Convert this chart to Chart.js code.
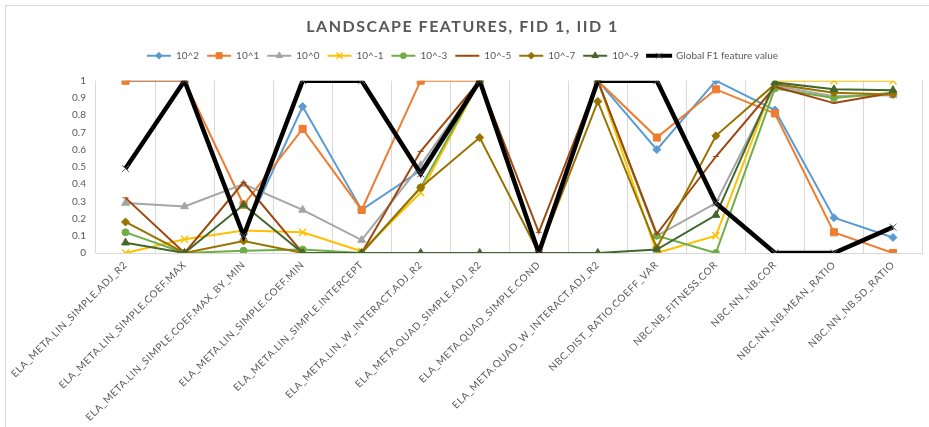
<!DOCTYPE html>
<html>
<head>
<meta charset="utf-8">
<title>Landscape features, FID 1, IID 1</title>
<script src="https://cdn.jsdelivr.net/npm/chart.js@4.4.1/dist/chart.umd.min.js"></script>
<style>
  html, body { margin: 0; padding: 0; background: #fff; overflow: hidden; }
  #frame { position: absolute; left: 5px; top: 5px; width: 940px; height: 440px; border: 1px solid #d9d9d9; }
  #box { position: absolute; left: 0; top: 0; width: 929px; height: 427px; }
</style>
</head>
<body>
<div id="frame"></div>
<div id="box"><canvas id="chart"></canvas></div>
<script>
const features = [
  'ELA_META.LIN_SIMPLE.ADJ_R2',
  'ELA_META.LIN_SIMPLE.COEF.MAX',
  'ELA_META.LIN_SIMPLE.COEF.MAX_BY_MIN',
  'ELA_META.LIN_SIMPLE.COEF.MIN',
  'ELA_META.LIN_SIMPLE.INTERCEPT',
  'ELA_META.LIN_W_INTERACT.ADJ_R2',
  'ELA_META.QUAD_SIMPLE.ADJ_R2',
  'ELA_META.QUAD_SIMPLE.COND',
  'ELA_META.QUAD_W_INTERACT.ADJ_R2',
  'NBC.DIST_RATIO.COEFF_VAR',
  'NBC.NB_FITNESS.COR',
  'NBC.NN_NB.COR',
  'NBC.NN_NB.MEAN_RATIO',
  'NBC.NN_NB.SD_RATIO'
];

// one array per setting
const e2  = [1, 1, 0.11, 0.85, 0.25, 0.48, 1, 0, 1, 0.60, 1, 0.83, 0.205, 0.09];
const e1  = [1, 1, 0.28, 0.72, 0.25, 1, 1, 0, 1, 0.67, 0.95, 0.81, 0.12, 0];
const e0  = [0.29, 0.27, 0.40, 0.25, 0.075, 0.51, 1, 0, 1, 0.10, 0.29, 0.97, 0.91, 0.915];
const em1 = [0, 0.08, 0.13, 0.12, 0.01, 0.35, 1, 0, 1, 0, 0.10, 1, 1, 1];
const em3 = [0.12, 0, 0.013, 0.02, 0, 0.38, 1, 0, 1, 0.10, 0, 0.955, 0.90, 0.93];
const em5 = [0.32, 0, 0.41, 0, 0, 0.59, 1, 0.12, 1, 0.11, 0.56, 0.965, 0.87, 0.93];
const em7 = [0.18, 0, 0.07, 0, 0, 0.38, 0.67, 0, 0.88, 0.03, 0.68, 0.98, 0.93, 0.92];
const em9 = [0.06, 0, 0.28, 0, 0, 0, 0, 0, 0, 0.02, 0.22, 0.99, 0.95, 0.945];
const globalF1 = [0.49, 1, 0.10, 1, 1, 0.46, 1, 0, 1, 1, 0.29, 0, 0, 0.15];

const yTicks = [0, 0.1, 0.2, 0.3, 0.4, 0.5, 0.6, 0.7, 0.8, 0.9, 1];

const series = [
  { label: '10^2',  data: e2,  color: '#5B9BD5', marker: 'rectRot',  r: 4 },
  { label: '10^1',  data: e1,  color: '#ED7D31', marker: 'rect',     r: 5 },
  { label: '10^0',  data: e0,  color: '#A5A5A5', marker: 'triangle', r: 4.5 },
  { label: '10^-1', data: em1, color: '#FFC000', marker: 'crossRot', r: 5 },
  { label: '10^-3', data: em3, color: '#70AD47', marker: 'circle',   r: 3.5 },
  { label: '10^-5', data: em5, color: '#9E480E', marker: 'line',     r: 3 },
  { label: '10^-7', data: em7, color: '#997300', marker: 'rectRot',  r: 4 },
  { label: '10^-9', data: em9, color: '#43682B', marker: 'triangle', r: 4.5 },
  { label: 'Global F1 feature value', data: globalF1, color: '#000000', marker: 'crossRot', r: 5 }
];

const datasets = series.map((s, i) => {
  const isGlobal = i === series.length - 1;
  const isCross = s.marker === 'crossRot';
  return {
    label: s.label,
    data: s.data,
    borderColor: s.color,
    backgroundColor: s.color,
    borderWidth: isGlobal ? 4.5 : 2,
    pointStyle: s.marker,
    pointRadius: s.r,
    pointHoverRadius: s.r,
    pointBackgroundColor: s.color,
    pointBorderColor: isGlobal ? '#595959' : s.color,
    pointBorderWidth: isCross && !isGlobal ? 1.5 : 1,
    fill: false,
    tension: 0,
    order: series.length - i   // later series drawn on top, like Excel
  };
});

Chart.defaults.font.family = 'Lato, "Open Sans", sans-serif';
Chart.defaults.color = '#595959';

const excelLook = {
  id: 'excelLook',
  afterInit(chart) {
    const title = chart.titleBlock;
    const drawTitle = title.draw.bind(title);
    title.draw = function (area) {
      chart.ctx.save();
      chart.ctx.letterSpacing = '1.5px';
      drawTitle(area);
      chart.ctx.restore();
    };
    const legend = chart.legend;
    const fitLegend = legend.fit.bind(legend);
    legend.fit = function () {
      fitLegend();
      this.height += 10;
    };
  },
  beforeDraw(chart) {
    const x = chart.scales.x;
    if (x && !x._spaced) {
      const drawLabels = x.drawLabels.bind(x);
      x.drawLabels = function (area) {
        chart.ctx.save();
        chart.ctx.letterSpacing = '0.6px';
        drawLabels(area);
        chart.ctx.restore();
      };
      x._spaced = true;
    }
  },
  afterDraw(chart) {
    // put the markers on the legend lines
    const lg = chart.legend;
    if (!lg || !lg.legendHitBoxes || !Chart.helpers || !Chart.helpers.drawPoint) return;
    const ctx = chart.ctx;
    const bw = lg.options.labels.boxWidth;
    lg.legendItems.forEach((item, i) => {
      const hb = lg.legendHitBoxes[i];
      const ds = chart.data.datasets[item.datasetIndex];
      ctx.save();
      ctx.fillStyle = ds.pointBackgroundColor;
      ctx.strokeStyle = ds.pointBorderColor;
      ctx.lineWidth = ds.pointBorderWidth;
      Chart.helpers.drawPoint(ctx, {
        pointStyle: ds.pointStyle,
        radius: ds.pointRadius * 0.85,
        borderWidth: ds.pointBorderWidth,
        rotation: 0
      }, hb.left + bw / 2, hb.top + hb.height / 2);
      ctx.restore();
    });
  }
};

new Chart(document.getElementById('chart'), {
  type: 'line',
  data: { labels: features, datasets: datasets },
  plugins: [excelLook],
  options: {
    responsive: true,
    maintainAspectRatio: false,
    animation: false,
    devicePixelRatio: 1,
    layout: { padding: { left: 0, right: 4, top: 0, bottom: 0 } },
    plugins: {
      title: {
        display: true,
        text: 'LANDSCAPE FEATURES, FID 1, IID 1',
        color: '#595959',
        font: { size: 16, weight: 'bold', lineHeight: 1.2 },
        padding: { top: 17, bottom: 6.5 }
      },
      legend: {
        position: 'top',
        labels: {
          boxWidth: 24,
          boxHeight: 2,
          padding: 8,
          color: '#595959',
          font: { size: 10 },
          sort: (a, b) => a.datasetIndex - b.datasetIndex,
          generateLabels(chart) {
            const items = Chart.defaults.plugins.legend.labels.generateLabels(chart);
            items.forEach(it => {
              const last = it.datasetIndex === chart.data.datasets.length - 1;
              it.lineWidth = last ? 2 : 0;
              it.strokeStyle = it.fillStyle;
            });
            return items;
          }
        }
      },
      tooltip: { enabled: false }
    },
    scales: {
      x: {
        offset: true,
        grid: { offset: true, color: '#d9d9d9', drawTicks: false },
        border: { display: true, color: '#d9d9d9' },
        ticks: { autoSkip: false, minRotation: 45, maxRotation: 45, padding: 6, color: '#595959', font: { size: 10 } },
        afterFit(s) { s.height = 174; }
      },
      y: {
        min: 0,
        max: 1,
        afterBuildTicks(s) { s.ticks = yTicks.map(v => ({ value: v })); },
        ticks: {
          padding: 10,
          color: '#595959',
          font: { size: 10 },
          callback: (v) => String(Number(v.toFixed(1)))
        },
        grid: { display: false, drawTicks: false },
        border: { display: false },
        afterFit(s) { s.width = 96; }
      }
    }
  }
});
</script>
</body>
</html>
